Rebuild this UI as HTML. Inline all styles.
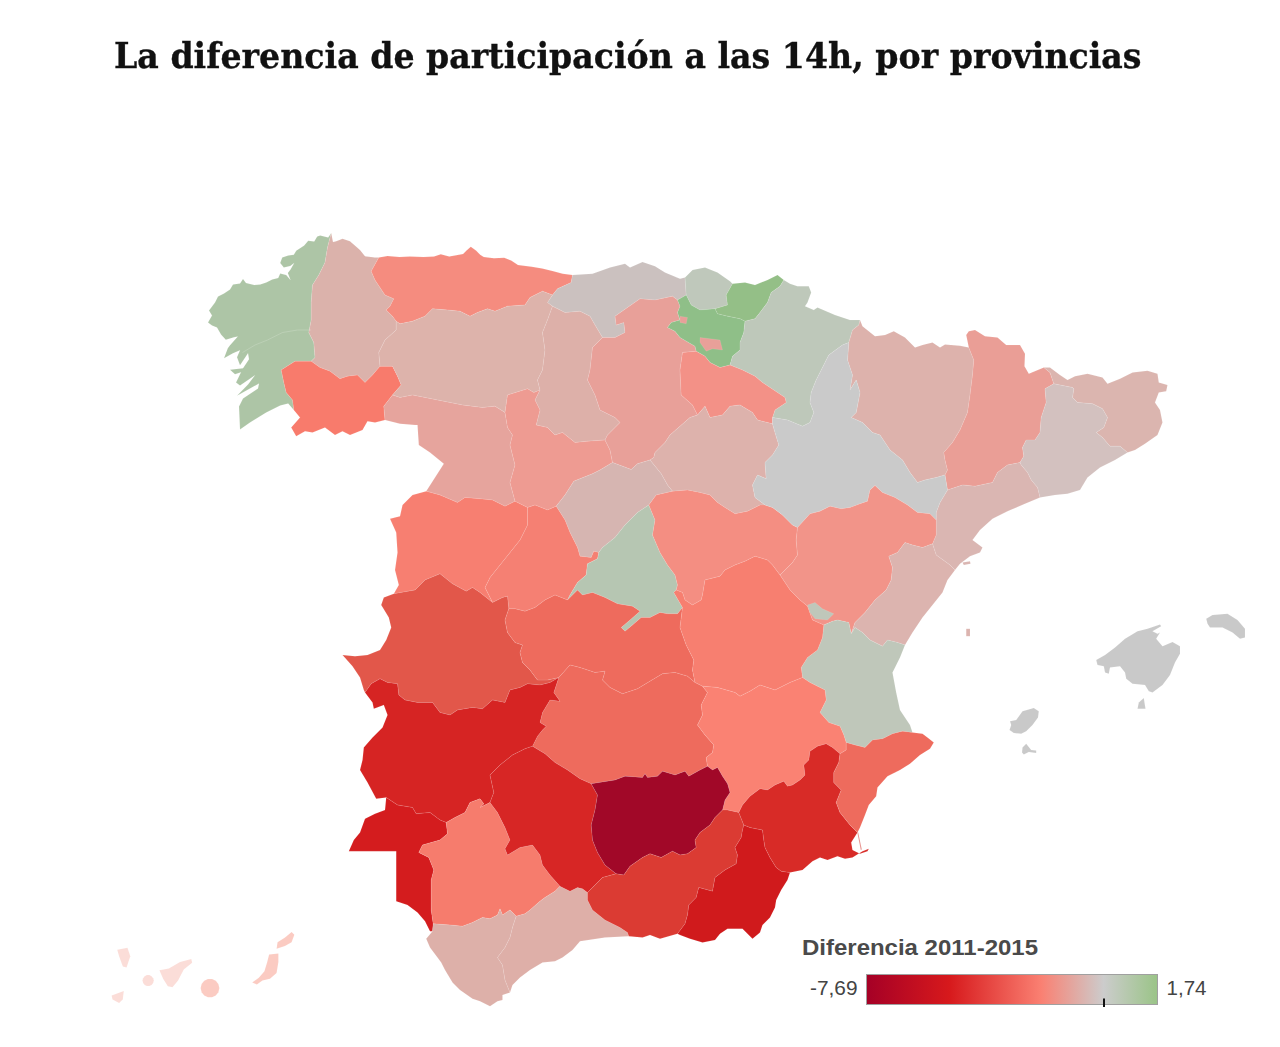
<!DOCTYPE html>
<html lang="es"><head><meta charset="utf-8"><title>La diferencia de participación a las 14h, por provincias</title>
<style>
html,body{margin:0;padding:0;background:#fff}
body{width:1280px;height:1047px;position:relative;overflow:hidden;font-family:"Liberation Sans",Arial,sans-serif}
h1{position:absolute;left:114px;top:33.5px;margin:0;font:bold 36px/1.2 "DejaVu Serif","Liberation Serif",serif;color:#111;white-space:nowrap;transform-origin:0 0;transform:scaleX(.922);-webkit-text-stroke:.35px #111}
svg{position:absolute;left:0;top:0}
.lt{font:bold 22px "Liberation Sans",Arial,sans-serif;fill:#4a4a4a}
.lv{font:20px "Liberation Sans",Arial,sans-serif;fill:#444}
</style></head><body>
<h1 id="t">La diferencia de participación a las 14h, por provincias</h1>
<svg width="1280" height="1047" viewBox="0 0 1280 1047">
<defs><linearGradient id="g" x1="0" x2="1" y1="0" y2="0">
<stop offset="0" stop-color="#a50026"/><stop offset=".285" stop-color="#d7191c"/><stop offset=".6" stop-color="#fa8072"/><stop offset=".815" stop-color="#cccccc"/><stop offset="1" stop-color="#9ac487"/>
</linearGradient></defs>
<g id="map" style="filter:blur(.45px)" stroke="#fff" stroke-opacity=".16" stroke-width=".6" stroke-linejoin="round">
<path d="M331.2 233.0 L328.2 237.5 L320.2 235.5 L317.2 236.5 L314.2 241.5 L308.2 240.8 L304.2 245.5 L296.2 250.8 L293.8 254.8 L288.2 255.5 L282.2 257.5 L280.2 263.0 L283.8 267.5 L290.2 266.0 L294.2 263.0 L290.5 269.5 L287.8 273.0 L290.5 280.0 L286.2 275.0 L280.2 273.5 L278.2 278.0 L272.2 279.5 L266.2 282.5 L260.2 284.5 L254.2 285.0 L246.0 283.0 L243.0 279.0 L240.0 283.5 L233.0 284.5 L230.0 289.5 L224.0 293.5 L218.0 296.5 L215.0 302.5 L209.0 310.5 L212.0 315.5 L208.0 322.5 L212.0 325.5 L217.0 327.5 L221.0 334.5 L225.8 339.8 L234.0 337.2 L237.8 336.5 L230.0 345.2 L227.8 348.2 L224.0 358.2 L233.0 353.2 L240.0 350.2 L237.0 357.2 L240.0 365.2 L248.0 353.2 L249.0 359.2 L243.0 368.2 L230.0 369.8 L235.0 374.2 L241.0 372.2 L236.0 382.5 L240.0 385.5 L255.0 375.2 L248.0 384.5 L237.0 395.8 L259.0 383.5 L258.0 388.5 L243.0 398.5 L239.0 406.5 L240.0 429.5 L250.0 422.5 L266.2 412.5 L280.2 405.5 L288.2 403.5 L293.8 410.0 L292.5 400.0 L286.2 392.5 L283.8 382.5 L281.2 370.0 L295.0 361.2 L311.2 361.2 L315.0 357.5 L313.8 342.5 L308.8 332.5 L311.2 320.0 L311.2 302.5 L312.5 285.0 L318.8 275.0 L325.0 262.5 L327.5 247.5 L331.2 233.0Z" fill="#ADC5A6"/>
<path d="M331.2 233.0 L333.0 242.0 L336.2 241.2 L342.5 238.8 L350.0 241.2 L360.0 250.0 L365.0 256.2 L375.0 257.5 L378.8 257.5 L371.2 271.2 L375.0 280.0 L380.0 287.5 L385.0 295.0 L393.8 298.8 L390.0 306.2 L386.2 310.0 L392.5 316.2 L396.2 321.2 L396.2 330.0 L385.0 340.0 L378.8 352.5 L380.0 366.2 L372.5 375.0 L365.0 382.5 L357.5 375.0 L347.5 376.2 L340.0 378.8 L330.0 371.2 L320.0 367.5 L311.2 361.2 L315.0 357.5 L313.8 342.5 L308.8 332.5 L311.2 320.0 L311.2 302.5 L312.5 285.0 L318.8 275.0 L325.0 262.5 L327.5 247.5 L331.2 233.0Z" fill="#DBB2AB"/>
<path d="M293.8 410.0 L292.5 400.0 L286.2 392.5 L283.8 382.5 L281.2 370.0 L295.0 361.2 L311.2 361.2 L320.0 367.5 L330.0 371.2 L340.0 378.8 L347.5 376.2 L357.5 375.0 L365.0 382.5 L372.5 375.0 L380.0 366.2 L392.5 366.2 L397.5 376.2 L401.2 385.0 L392.5 395.0 L383.8 406.2 L385.0 420.0 L375.0 422.5 L367.5 421.2 L362.5 430.0 L350.0 435.0 L342.5 431.2 L335.0 435.0 L325.0 427.5 L312.5 432.5 L305.0 431.2 L296.2 436.2 L291.2 427.5 L300.0 417.5 L293.8 410.0Z" fill="#F87B6C"/>
<path d="M378.8 257.5 L387.5 256.0 L399.5 257.0 L409.8 256.5 L423.5 257.0 L434.0 256.5 L440.8 254.2 L449.2 256.5 L456.2 255.2 L463.0 254.0 L466.5 250.5 L470.8 246.8 L476.0 250.5 L480.2 254.8 L483.8 257.0 L494.0 258.2 L504.2 257.8 L511.2 260.5 L518.0 265.0 L531.8 266.8 L542.2 268.5 L552.5 271.0 L562.8 273.8 L572.5 275.0 L571.2 282.5 L557.5 288.8 L552.5 295.0 L542.5 291.2 L530.0 297.5 L525.0 305.0 L507.5 306.2 L495.0 311.2 L487.5 308.8 L477.5 312.5 L470.0 316.2 L460.0 311.2 L447.5 310.0 L432.5 308.8 L425.0 316.2 L412.5 321.2 L400.0 323.8 L396.2 321.2 L392.5 316.2 L386.2 310.0 L390.0 306.2 L393.8 298.8 L385.0 295.0 L380.0 287.5 L375.0 280.0 L371.2 271.2 L378.8 257.5Z" fill="#F58C7F"/>
<path d="M572.5 275.0 L592.5 273.8 L610.0 267.5 L625.0 263.8 L630.0 267.5 L642.5 262.0 L655.0 266.2 L665.0 272.5 L680.0 278.8 L685.0 277.5 L686.2 295.0 L677.5 300.0 L672.5 296.2 L655.0 300.0 L640.0 298.8 L627.5 307.5 L615.0 316.2 L616.2 325.0 L623.8 322.5 L625.0 332.5 L615.0 337.5 L602.5 337.5 L595.0 325.0 L590.0 316.2 L580.0 311.2 L565.0 312.5 L552.5 306.2 L547.5 302.5 L552.5 295.0 L557.5 288.8 L571.2 282.5 L572.5 275.0Z" fill="#CBC1BF"/>
<path d="M396.2 321.2 L400.0 323.8 L412.5 321.2 L425.0 316.2 L432.5 308.8 L447.5 310.0 L460.0 311.2 L470.0 316.2 L477.5 312.5 L487.5 308.8 L495.0 311.2 L507.5 306.2 L525.0 305.0 L530.0 297.5 L542.5 291.2 L552.5 295.0 L547.5 302.5 L552.5 306.2 L547.5 320.0 L542.5 332.5 L545.0 350.0 L542.5 370.0 L537.5 380.0 L540.0 390.0 L533.8 392.5 L527.5 388.8 L507.5 395.0 L505.0 412.5 L495.0 406.2 L482.5 407.5 L462.5 405.0 L437.5 400.0 L412.5 395.0 L400.0 397.5 L392.5 395.0 L401.2 385.0 L397.5 376.2 L392.5 366.2 L380.0 366.2 L378.8 352.5 L385.0 340.0 L396.2 330.0 L396.2 321.2Z" fill="#DDB3AB"/>
<path d="M392.5 395.0 L400.0 397.5 L412.5 395.0 L437.5 400.0 L462.5 405.0 L482.5 407.5 L495.0 406.2 L505.0 412.5 L507.5 427.5 L512.5 435.0 L510.0 445.0 L515.0 465.0 L510.0 482.5 L515.0 501.2 L505.0 506.2 L492.5 500.0 L480.0 498.8 L465.0 497.5 L457.5 502.5 L440.0 495.0 L426.2 491.2 L435.0 477.5 L443.8 463.8 L430.0 452.5 L418.8 445.0 L417.5 425.0 L415.0 425.0 L400.0 423.8 L385.0 420.0 L383.8 406.2 L392.5 395.0Z" fill="#E6A49D"/>
<path d="M552.5 306.2 L565.0 312.5 L580.0 311.2 L590.0 316.2 L595.0 325.0 L602.5 337.5 L592.5 347.5 L590.0 370.0 L587.5 380.0 L595.0 395.0 L600.0 410.0 L615.0 417.5 L620.0 422.5 L607.5 435.0 L605.0 440.0 L587.5 441.2 L575.0 442.5 L562.5 432.5 L555.0 435.0 L547.5 427.5 L536.2 425.0 L540.0 410.0 L535.0 400.0 L540.0 390.0 L537.5 380.0 L542.5 370.0 L545.0 350.0 L542.5 332.5 L547.5 320.0 L552.5 306.2Z" fill="#DDB0A9"/>
<path d="M505.0 412.5 L507.5 395.0 L527.5 388.8 L533.8 392.5 L540.0 390.0 L535.0 400.0 L540.0 410.0 L536.2 425.0 L547.5 427.5 L555.0 435.0 L562.5 432.5 L575.0 442.5 L587.5 441.2 L605.0 440.0 L610.0 450.0 L612.5 462.5 L600.0 470.0 L592.5 473.8 L573.8 481.2 L565.0 495.0 L556.2 506.2 L547.5 510.0 L535.0 505.0 L527.5 507.5 L515.0 501.2 L510.0 482.5 L515.0 465.0 L510.0 445.0 L512.5 435.0 L507.5 427.5 L505.0 412.5Z" fill="#EE9B92"/>
<path d="M677.5 300.0 L680.0 306.2 L677.5 312.5 L680.0 320.0 L671.2 322.5 L667.5 327.5 L675.0 331.2 L680.0 337.5 L695.0 346.2 L696.2 351.2 L682.5 352.5 L680.0 370.0 L681.2 395.0 L692.5 405.0 L697.5 415.0 L690.0 417.5 L670.0 435.0 L665.0 442.5 L655.0 452.5 L653.8 457.5 L650.0 460.0 L637.5 463.8 L631.2 469.5 L612.5 462.5 L610.0 450.0 L605.0 440.0 L607.5 435.0 L620.0 422.5 L615.0 417.5 L600.0 410.0 L595.0 395.0 L587.5 380.0 L590.0 370.0 L592.5 347.5 L602.5 337.5 L615.0 337.5 L625.0 332.5 L623.8 322.5 L616.2 325.0 L615.0 316.2 L627.5 307.5 L640.0 298.8 L655.0 300.0 L672.5 296.2 L677.5 300.0Z" fill="#E8A099"/>
<path d="M685.0 277.5 L692.5 270.0 L705.0 267.5 L717.5 272.5 L730.0 281.2 L732.5 283.8 L726.2 295.0 L727.5 305.0 L715.0 308.8 L700.0 310.0 L691.2 305.0 L686.2 295.0 L685.0 277.5Z" fill="#BFC8BB"/>
<path d="M732.5 283.8 L745.0 282.5 L755.0 285.0 L767.5 280.0 L777.5 275.0 L783.8 280.0 L780.0 286.2 L771.2 292.5 L767.5 302.5 L760.0 312.5 L755.0 318.8 L745.0 321.2 L740.0 318.8 L727.5 316.2 L717.5 313.8 L715.0 308.8 L727.5 305.0 L726.2 295.0 L732.5 283.8Z" fill="#94BF87"/>
<path d="M677.5 300.0 L686.2 295.0 L691.2 305.0 L700.0 310.0 L715.0 308.8 L717.5 313.8 L727.5 316.2 L740.0 318.8 L745.0 321.2 L743.8 332.5 L740.0 342.5 L740.0 350.0 L732.5 356.2 L730.0 365.0 L720.0 367.5 L710.0 362.5 L705.0 356.2 L696.2 351.2 L695.0 346.2 L680.0 337.5 L675.0 331.2 L667.5 327.5 L671.2 322.5 L680.0 320.0 L677.5 312.5 L680.0 306.2 L677.5 300.0Z" fill="#8FBF88"/>
<path d="M783.8 280.0 L790.0 283.8 L797.5 286.2 L808.8 286.2 L811.2 292.5 L807.5 302.5 L805.0 306.2 L813.8 310.0 L817.5 307.5 L835.0 315.0 L850.0 320.0 L860.0 320.0 L858.8 325.0 L852.5 330.0 L848.8 342.5 L842.5 345.0 L828.8 355.0 L822.5 367.5 L816.2 380.0 L811.2 392.5 L810.0 402.5 L813.8 412.5 L810.0 422.5 L802.5 426.2 L787.5 420.0 L772.5 417.5 L775.0 410.0 L786.2 402.5 L785.0 397.5 L770.0 387.5 L762.5 382.5 L755.0 376.2 L742.5 370.0 L730.0 365.0 L732.5 356.2 L740.0 350.0 L740.0 342.5 L743.8 332.5 L745.0 321.2 L755.0 318.8 L760.0 312.5 L767.5 302.5 L771.2 292.5 L780.0 286.2 L783.8 280.0Z" fill="#BEC8BA"/>
<path d="M696.2 351.2 L705.0 356.2 L710.0 362.5 L720.0 367.5 L730.0 365.0 L742.5 370.0 L755.0 376.2 L762.5 382.5 L770.0 387.5 L785.0 397.5 L786.2 402.5 L775.0 410.0 L772.5 417.5 L772.5 423.8 L757.5 420.0 L752.5 412.5 L740.0 405.0 L730.0 406.2 L722.5 415.0 L710.0 417.5 L705.0 406.2 L697.5 415.0 L692.5 405.0 L681.2 395.0 L680.0 370.0 L682.5 352.5 L696.2 351.2Z" fill="#F39187"/>
<path d="M650.0 460.0 L653.8 457.5 L655.0 452.5 L665.0 442.5 L670.0 435.0 L690.0 417.5 L697.5 415.0 L705.0 406.2 L710.0 417.5 L722.5 415.0 L730.0 406.2 L740.0 405.0 L752.5 412.5 L757.5 420.0 L772.5 423.8 L775.0 432.5 L778.8 445.0 L772.5 455.0 L765.0 462.5 L766.2 478.8 L757.5 475.0 L752.5 485.0 L755.0 497.5 L765.0 505.0 L760.0 505.0 L747.5 511.2 L735.0 513.8 L725.0 507.5 L717.5 502.5 L710.0 495.0 L700.0 492.5 L687.5 490.0 L672.5 491.2 L667.5 485.0 L661.2 473.8 L650.0 460.0Z" fill="#DDB2AC"/>
<path d="M612.5 462.5 L631.2 469.5 L637.5 463.8 L650.0 460.0 L661.2 473.8 L667.5 485.0 L672.5 491.2 L656.2 495.0 L648.8 505.0 L637.5 512.5 L625.0 525.0 L615.0 537.5 L602.5 547.5 L598.8 552.5 L593.8 551.2 L591.2 557.5 L580.0 556.2 L577.5 547.5 L570.0 532.5 L565.0 520.0 L556.2 506.2 L565.0 495.0 L573.8 481.2 L592.5 473.8 L600.0 470.0 L612.5 462.5Z" fill="#D6B5B1"/>
<path d="M527.5 507.5 L535.0 505.0 L547.5 510.0 L556.2 506.2 L565.0 520.0 L570.0 532.5 L577.5 547.5 L580.0 556.2 L591.2 557.5 L593.8 551.2 L598.8 552.5 L597.5 558.8 L587.5 563.8 L586.2 575.0 L577.5 582.5 L570.0 595.0 L567.5 600.0 L555.0 595.0 L545.0 600.0 L535.0 607.5 L525.0 611.2 L515.0 608.8 L508.8 608.8 L507.5 596.2 L502.5 597.5 L492.5 602.5 L485.0 587.5 L490.0 577.5 L500.0 565.0 L510.0 552.5 L520.0 540.0 L527.5 525.0 L527.5 507.5Z" fill="#F58073"/>
<path d="M426.2 491.2 L440.0 495.0 L457.5 502.5 L465.0 497.5 L480.0 498.8 L492.5 500.0 L505.0 506.2 L515.0 501.2 L527.5 507.5 L527.5 525.0 L520.0 540.0 L510.0 552.5 L500.0 565.0 L490.0 577.5 L485.0 587.5 L492.5 602.5 L480.0 592.5 L472.5 587.5 L466.2 591.2 L452.5 583.8 L440.0 573.8 L425.0 580.0 L415.0 590.0 L393.8 593.8 L398.8 585.0 L395.0 570.0 L397.5 552.5 L396.2 532.5 L390.0 518.8 L400.0 516.2 L402.5 505.0 L412.5 495.0 L426.2 491.2Z" fill="#F77F71"/>
<path d="M598.8 552.5 L602.5 547.5 L615.0 537.5 L625.0 525.0 L637.5 512.5 L648.8 505.0 L655.0 520.0 L652.5 535.0 L660.0 552.5 L667.5 565.0 L675.0 575.0 L677.5 585.0 L676.2 590.0 L673.8 592.5 L682.5 607.5 L677.5 613.8 L667.5 613.8 L660.0 612.5 L650.0 617.5 L641.2 617.5 L632.5 625.0 L625.0 631.2 L621.2 627.5 L630.0 620.0 L640.0 611.2 L632.5 606.2 L617.5 603.8 L605.0 597.5 L592.5 592.5 L582.5 595.0 L577.5 590.0 L567.5 600.0 L570.0 595.0 L577.5 582.5 L586.2 575.0 L587.5 563.8 L597.5 558.8 L598.8 552.5Z" fill="#B6C6B2"/>
<path d="M648.8 505.0 L656.2 495.0 L672.5 491.2 L687.5 490.0 L700.0 492.5 L710.0 495.0 L717.5 502.5 L725.0 507.5 L735.0 513.8 L747.5 511.2 L760.0 505.0 L765.0 505.0 L772.5 507.5 L782.5 515.0 L792.5 525.0 L797.5 527.5 L796.2 540.0 L797.5 555.0 L792.5 562.5 L787.5 567.5 L780.0 575.0 L772.5 565.0 L767.5 560.0 L755.0 556.2 L745.0 561.2 L735.0 565.0 L725.0 570.0 L720.0 576.2 L705.0 580.0 L702.5 595.0 L701.2 600.0 L692.5 605.0 L685.0 600.0 L682.5 592.5 L676.2 590.0 L677.5 585.0 L675.0 575.0 L667.5 565.0 L660.0 552.5 L652.5 535.0 L655.0 520.0 L648.8 505.0Z" fill="#F48E82"/>
<path d="M860.0 320.0 L862.5 326.2 L875.0 336.2 L885.0 335.0 L893.8 331.2 L905.0 337.5 L915.0 347.5 L922.5 345.0 L932.5 342.5 L940.0 347.5 L945.0 344.5 L960.0 345.8 L968.8 347.5 L973.8 360.0 L972.5 375.0 L970.0 395.0 L967.5 412.5 L960.0 430.0 L952.5 442.5 L943.8 452.5 L945.0 460.0 L947.5 470.0 L945.0 475.0 L936.2 477.5 L925.0 480.0 L917.5 482.5 L910.0 472.5 L902.5 460.0 L890.0 450.0 L880.0 435.0 L872.5 432.5 L862.5 422.5 L851.2 417.5 L856.2 412.5 L860.0 392.5 L856.2 380.0 L850.0 390.0 L852.5 375.0 L847.5 360.0 L848.8 342.5 L852.5 330.0 L858.8 325.0 L860.0 320.0Z" fill="#DDB2AC"/>
<path d="M968.8 347.5 L966.2 335.0 L968.8 331.2 L975.0 330.0 L985.0 336.2 L997.5 337.5 L1006.2 345.0 L1020.0 345.0 L1025.0 353.8 L1024.5 366.2 L1028.8 373.8 L1043.8 367.5 L1050.0 372.5 L1053.8 383.8 L1045.0 388.8 L1046.2 402.5 L1041.2 417.5 L1040.0 432.5 L1035.0 440.0 L1026.2 440.0 L1022.5 447.5 L1023.8 456.2 L1020.0 462.5 L1007.5 465.0 L997.5 472.5 L992.5 482.5 L975.0 486.2 L962.5 485.0 L947.5 490.0 L945.0 475.0 L947.5 470.0 L945.0 460.0 L943.8 452.5 L952.5 442.5 L960.0 430.0 L967.5 412.5 L970.0 395.0 L972.5 375.0 L973.8 360.0 L968.8 347.5Z" fill="#EA9E96"/>
<path d="M1043.8 367.5 L1050.0 367.5 L1060.0 375.0 L1067.5 380.0 L1075.0 376.2 L1087.5 373.8 L1102.5 377.5 L1107.5 383.8 L1120.0 378.8 L1132.5 372.5 L1147.5 370.8 L1157.5 373.8 L1158.8 382.5 L1167.5 385.0 L1166.2 391.2 L1158.8 392.5 L1155.0 402.5 L1160.0 410.0 L1162.5 422.5 L1157.5 435.0 L1145.0 443.8 L1135.0 450.0 L1127.5 452.5 L1120.0 446.2 L1110.0 446.2 L1102.5 437.5 L1096.2 432.5 L1103.8 427.5 L1107.5 417.5 L1102.5 408.8 L1092.5 403.8 L1077.5 402.5 L1072.5 397.5 L1073.8 388.8 L1072.5 387.5 L1053.8 383.8 L1050.0 372.5 L1043.8 367.5Z" fill="#DBB5AF"/>
<path d="M1053.8 383.8 L1072.5 387.5 L1073.8 388.8 L1072.5 397.5 L1077.5 402.5 L1092.5 403.8 L1102.5 408.8 L1107.5 417.5 L1103.8 427.5 L1096.2 432.5 L1102.5 437.5 L1110.0 446.2 L1120.0 446.2 L1127.5 452.5 L1115.0 460.0 L1100.0 467.5 L1087.5 477.5 L1080.0 490.0 L1067.5 493.8 L1055.0 495.0 L1040.0 497.5 L1037.5 487.5 L1031.2 480.0 L1027.5 472.5 L1021.2 465.0 L1020.0 462.5 L1023.8 456.2 L1022.5 447.5 L1026.2 440.0 L1035.0 440.0 L1040.0 432.5 L1041.2 417.5 L1046.2 402.5 L1045.0 388.8 L1053.8 383.8Z" fill="#D3C1BF"/>
<path d="M947.5 490.0 L962.5 485.0 L975.0 486.2 L992.5 482.5 L997.5 472.5 L1007.5 465.0 L1020.0 462.5 L1021.2 465.0 L1027.5 472.5 L1031.2 480.0 L1037.5 487.5 L1040.0 497.5 L1025.0 503.8 L1007.5 511.2 L992.5 518.8 L980.0 530.0 L972.5 540.0 L982.5 547.5 L980.0 552.5 L970.0 556.2 L960.0 563.8 L955.0 570.0 L950.0 565.0 L936.2 555.0 L932.5 543.8 L936.2 535.0 L936.2 520.0 L936.2 512.5 L940.0 502.5 L947.5 490.0Z" fill="#DAB6B2"/>
<path d="M772.5 417.5 L787.5 420.0 L802.5 426.2 L810.0 422.5 L813.8 412.5 L810.0 402.5 L811.2 392.5 L816.2 380.0 L822.5 367.5 L828.8 355.0 L842.5 345.0 L848.8 342.5 L847.5 360.0 L852.5 375.0 L850.0 390.0 L856.2 380.0 L860.0 392.5 L856.2 412.5 L851.2 417.5 L862.5 422.5 L872.5 432.5 L880.0 435.0 L890.0 450.0 L902.5 460.0 L910.0 472.5 L917.5 482.5 L925.0 480.0 L936.2 477.5 L945.0 475.0 L947.5 490.0 L940.0 502.5 L936.2 512.5 L936.2 520.0 L930.0 513.8 L917.5 512.5 L907.5 505.0 L895.0 497.5 L882.5 492.5 L875.0 485.5 L870.0 490.0 L867.5 501.2 L860.0 503.8 L850.0 507.5 L841.2 508.8 L830.0 506.2 L820.0 511.2 L810.0 513.8 L797.5 527.5 L792.5 525.0 L782.5 515.0 L772.5 507.5 L765.0 505.0 L755.0 497.5 L752.5 485.0 L757.5 475.0 L766.2 478.8 L765.0 462.5 L772.5 455.0 L778.8 445.0 L775.0 432.5 L772.5 423.8 L772.5 417.5Z" fill="#CACACA"/>
<path d="M797.5 527.5 L810.0 513.8 L820.0 511.2 L830.0 506.2 L841.2 508.8 L850.0 507.5 L860.0 503.8 L867.5 501.2 L870.0 490.0 L875.0 485.5 L882.5 492.5 L895.0 497.5 L907.5 505.0 L917.5 512.5 L930.0 513.8 L936.2 520.0 L936.2 535.0 L932.5 543.8 L922.5 547.5 L912.5 545.0 L905.0 542.5 L897.5 552.5 L888.8 556.2 L892.5 567.5 L891.2 580.0 L886.2 590.0 L875.0 600.0 L865.0 612.5 L855.0 622.5 L851.2 633.8 L848.8 622.5 L837.5 620.0 L832.5 621.2 L823.8 625.0 L812.5 620.0 L807.5 606.2 L800.0 600.0 L790.0 590.0 L780.0 575.0 L787.5 567.5 L792.5 562.5 L797.5 555.0 L796.2 540.0 L797.5 527.5Z" fill="#F29489"/>
<path d="M932.5 543.8 L936.2 555.0 L950.0 565.0 L955.0 570.0 L947.5 580.0 L942.5 592.5 L932.5 605.0 L922.5 617.5 L912.5 632.5 L905.0 645.0 L897.5 642.5 L887.5 640.0 L882.5 646.2 L870.0 640.0 L862.5 632.5 L855.0 627.5 L851.2 633.8 L855.0 622.5 L865.0 612.5 L875.0 600.0 L886.2 590.0 L891.2 580.0 L892.5 567.5 L888.8 556.2 L897.5 552.5 L905.0 542.5 L912.5 545.0 L922.5 547.5 L932.5 543.8Z" fill="#DCB4AF"/>
<path d="M823.8 625.0 L832.5 621.2 L837.5 620.0 L848.8 622.5 L851.2 633.8 L855.0 627.5 L862.5 632.5 L870.0 640.0 L882.5 646.2 L887.5 640.0 L897.5 642.5 L905.0 645.0 L900.0 657.5 L893.8 670.0 L892.5 672.5 L896.2 692.5 L900.0 710.0 L910.0 725.0 L912.5 732.5 L902.5 731.2 L892.5 733.8 L882.5 738.8 L872.5 740.0 L865.0 747.5 L855.0 745.0 L846.2 742.5 L843.8 735.0 L840.0 726.2 L828.8 722.5 L820.0 712.5 L826.2 700.0 L825.0 690.0 L810.0 682.5 L802.5 677.5 L801.2 667.5 L807.5 657.5 L817.5 650.0 L822.5 637.5 L823.8 625.0Z" fill="#BFC7BA"/>
<path d="M393.8 593.8 L415.0 590.0 L425.0 580.0 L440.0 573.8 L452.5 583.8 L466.2 591.2 L472.5 587.5 L480.0 592.5 L492.5 602.5 L502.5 597.5 L507.5 596.2 L508.8 608.8 L505.0 620.0 L507.5 632.5 L515.0 642.5 L522.5 645.0 L520.0 652.5 L522.5 662.5 L530.0 670.0 L537.5 680.0 L547.5 680.0 L558.8 677.5 L550.0 682.5 L540.0 685.0 L527.5 683.8 L520.0 687.5 L510.0 690.0 L505.0 702.5 L492.5 700.0 L482.5 708.8 L472.5 707.5 L457.5 710.0 L450.0 715.0 L440.0 712.5 L432.5 702.5 L417.5 702.5 L405.0 700.0 L398.8 695.0 L397.5 683.8 L387.5 682.5 L380.0 678.8 L371.2 683.8 L365.0 692.5 L363.8 690.0 L360.0 677.5 L352.5 666.2 L342.5 655.0 L355.0 656.2 L367.5 655.0 L380.0 650.0 L386.2 640.0 L391.2 627.5 L388.8 617.5 L381.2 605.0 L383.8 597.5 L393.8 593.8Z" fill="#E2574A"/>
<path d="M508.8 608.8 L515.0 608.8 L525.0 611.2 L535.0 607.5 L545.0 600.0 L555.0 595.0 L567.5 600.0 L577.5 590.0 L582.5 595.0 L592.5 592.5 L605.0 597.5 L617.5 603.8 L632.5 606.2 L640.0 611.2 L630.0 620.0 L621.2 627.5 L625.0 631.2 L632.5 625.0 L641.2 617.5 L650.0 617.5 L660.0 612.5 L667.5 613.8 L677.5 613.8 L682.5 607.5 L680.0 627.5 L686.2 645.0 L693.8 660.0 L692.5 670.0 L695.0 682.5 L687.5 676.2 L675.0 672.5 L662.5 673.8 L650.0 681.2 L637.5 688.8 L622.5 693.8 L610.0 687.5 L602.5 680.0 L605.0 671.2 L595.0 672.5 L580.0 667.5 L570.0 665.0 L558.8 677.5 L547.5 680.0 L537.5 680.0 L530.0 670.0 L522.5 662.5 L520.0 652.5 L522.5 645.0 L515.0 642.5 L507.5 632.5 L505.0 620.0 L508.8 608.8Z" fill="#EE6B5D"/>
<path d="M676.2 590.0 L682.5 592.5 L685.0 600.0 L692.5 605.0 L701.2 600.0 L702.5 595.0 L705.0 580.0 L720.0 576.2 L725.0 570.0 L735.0 565.0 L745.0 561.2 L755.0 556.2 L767.5 560.0 L772.5 565.0 L780.0 575.0 L790.0 590.0 L800.0 600.0 L807.5 606.2 L812.5 620.0 L823.8 625.0 L822.5 637.5 L817.5 650.0 L807.5 657.5 L801.2 667.5 L802.5 677.5 L790.0 682.5 L775.0 690.0 L760.0 685.0 L750.0 691.2 L740.0 696.2 L735.0 692.5 L717.5 687.5 L702.5 686.2 L695.0 682.5 L692.5 670.0 L693.8 660.0 L686.2 645.0 L680.0 627.5 L682.5 607.5 L673.8 592.5 L676.2 590.0Z" fill="#F77F70"/>
<path d="M558.8 677.5 L570.0 665.0 L580.0 667.5 L595.0 672.5 L605.0 671.2 L602.5 680.0 L610.0 687.5 L622.5 693.8 L637.5 688.8 L650.0 681.2 L662.5 673.8 L675.0 672.5 L687.5 676.2 L695.0 682.5 L702.5 686.2 L707.5 692.5 L701.2 705.0 L702.5 715.0 L697.5 725.0 L705.0 735.0 L713.8 745.0 L712.5 752.5 L706.2 757.5 L707.5 766.2 L700.0 770.0 L688.8 776.2 L685.0 771.2 L675.0 775.0 L662.5 771.2 L657.5 776.2 L647.5 777.5 L645.0 773.8 L642.5 777.5 L625.0 776.2 L615.0 780.0 L591.2 783.8 L580.0 778.8 L567.5 770.0 L555.0 762.5 L545.0 753.8 L532.5 746.2 L537.5 736.2 L542.5 730.0 L546.2 726.2 L540.0 722.5 L542.5 712.5 L550.0 700.0 L560.0 701.2 L553.8 692.5 L558.8 677.5Z" fill="#EE6B5D"/>
<path d="M702.5 686.2 L717.5 687.5 L735.0 692.5 L740.0 696.2 L750.0 691.2 L760.0 685.0 L775.0 690.0 L790.0 682.5 L802.5 677.5 L810.0 682.5 L825.0 690.0 L826.2 700.0 L820.0 712.5 L828.8 722.5 L840.0 726.2 L843.8 735.0 L846.2 742.5 L846.2 750.0 L840.0 753.8 L832.5 747.5 L826.2 743.8 L817.5 746.2 L810.0 751.2 L808.8 760.0 L803.8 765.0 L805.0 775.0 L800.0 780.0 L792.5 785.0 L787.5 786.2 L783.8 781.2 L775.0 785.0 L767.5 790.0 L760.0 788.8 L750.0 796.2 L742.5 805.0 L738.8 812.5 L727.5 810.0 L722.5 810.0 L725.0 800.0 L730.0 792.5 L727.5 783.8 L722.5 776.2 L717.5 767.5 L712.5 770.0 L707.5 766.2 L706.2 757.5 L712.5 752.5 L713.8 745.0 L705.0 735.0 L697.5 725.0 L702.5 715.0 L701.2 705.0 L707.5 692.5 L702.5 686.2Z" fill="#FA8273"/>
<path d="M365.0 692.5 L371.2 683.8 L380.0 678.8 L387.5 682.5 L397.5 683.8 L398.8 695.0 L405.0 700.0 L417.5 702.5 L432.5 702.5 L440.0 712.5 L450.0 715.0 L457.5 710.0 L472.5 707.5 L482.5 708.8 L492.5 700.0 L505.0 702.5 L510.0 690.0 L520.0 687.5 L527.5 683.8 L540.0 685.0 L550.0 682.5 L558.8 677.5 L553.8 692.5 L560.0 701.2 L550.0 700.0 L542.5 712.5 L540.0 722.5 L546.2 726.2 L542.5 730.0 L537.5 736.2 L532.5 746.2 L525.0 748.8 L512.5 755.0 L500.0 765.0 L490.0 775.0 L493.8 792.5 L490.0 802.5 L480.0 807.5 L483.8 803.8 L480.0 798.8 L470.0 802.5 L465.0 812.5 L455.0 817.5 L446.2 822.5 L440.0 820.0 L430.0 812.5 L416.2 813.8 L412.5 807.5 L397.5 805.0 L386.2 797.5 L376.2 798.8 L367.5 782.5 L360.0 770.0 L362.5 760.0 L363.8 747.5 L372.5 737.5 L382.5 727.5 L387.5 715.0 L383.8 705.0 L373.8 708.8 L372.5 702.5 L365.0 692.5Z" fill="#D62423"/>
<path d="M386.2 797.5 L397.5 805.0 L412.5 807.5 L416.2 813.8 L430.0 812.5 L440.0 820.0 L446.2 822.5 L447.5 833.8 L440.0 840.0 L422.5 845.0 L418.8 852.5 L428.8 857.5 L433.8 870.0 L431.2 880.0 L431.2 910.0 L433.2 923.8 L432.5 931.2 L430.0 931.2 L425.0 921.2 L417.5 912.5 L407.5 905.0 L396.2 901.2 L396.2 851.2 L348.8 851.2 L353.8 840.0 L360.0 832.5 L365.0 818.8 L375.0 813.8 L385.0 810.0 L386.2 797.5Z" fill="#D41C1E"/>
<path d="M446.2 822.5 L455.0 817.5 L465.0 812.5 L470.0 802.5 L480.0 798.8 L483.8 803.8 L480.0 807.5 L490.0 802.5 L497.5 812.5 L505.0 827.5 L510.0 840.0 L505.0 848.8 L507.5 855.0 L520.0 847.5 L532.5 845.0 L540.0 855.0 L542.5 865.0 L550.0 875.0 L560.0 886.2 L555.0 891.2 L545.0 897.5 L540.0 901.2 L530.0 910.0 L525.0 913.8 L516.2 916.2 L510.0 910.0 L502.5 915.0 L500.0 908.8 L497.5 915.0 L490.0 918.8 L482.5 917.5 L472.5 922.5 L462.5 926.2 L450.0 925.0 L433.2 923.8 L431.2 910.0 L431.2 880.0 L433.8 870.0 L428.8 857.5 L418.8 852.5 L422.5 845.0 L440.0 840.0 L447.5 833.8 L446.2 822.5Z" fill="#F67C6D"/>
<path d="M433.2 923.8 L450.0 925.0 L462.5 926.2 L472.5 922.5 L482.5 917.5 L490.0 918.8 L497.5 915.0 L500.0 908.8 L502.5 915.0 L510.0 910.0 L516.2 916.2 L512.5 927.5 L510.0 937.5 L505.0 947.5 L497.5 957.5 L502.5 965.0 L505.0 980.0 L510.0 992.5 L502.5 995.0 L502.5 1000.0 L497.5 1001.2 L490.0 1006.2 L480.0 1001.2 L472.5 998.8 L460.0 990.0 L452.5 982.5 L445.0 970.0 L441.2 962.5 L437.5 957.5 L430.0 947.5 L426.2 938.8 L432.5 931.2 L433.2 923.8Z" fill="#DDB0A9"/>
<path d="M516.2 916.2 L525.0 913.8 L530.0 910.0 L540.0 901.2 L545.0 897.5 L555.0 891.2 L560.0 886.2 L570.0 891.2 L577.5 887.5 L582.5 888.8 L587.5 892.5 L587.5 900.0 L592.5 910.0 L605.0 920.0 L620.0 927.5 L627.5 932.5 L628.8 936.2 L605.0 937.5 L580.0 941.2 L572.5 950.0 L562.5 957.5 L555.0 961.2 L542.5 962.5 L530.0 970.0 L520.0 977.5 L512.5 985.0 L510.0 992.5 L505.0 980.0 L502.5 965.0 L497.5 957.5 L505.0 947.5 L510.0 937.5 L512.5 927.5 L516.2 916.2Z" fill="#DEAFA8"/>
<path d="M490.0 802.5 L493.8 792.5 L490.0 775.0 L500.0 765.0 L512.5 755.0 L525.0 748.8 L532.5 746.2 L545.0 753.8 L555.0 762.5 L567.5 770.0 L580.0 778.8 L591.2 783.8 L597.5 795.0 L595.0 810.0 L591.2 825.0 L592.5 840.0 L597.5 852.5 L605.0 865.0 L616.2 873.8 L602.5 877.5 L592.5 887.5 L587.5 892.5 L582.5 888.8 L577.5 887.5 L570.0 891.2 L560.0 886.2 L550.0 875.0 L542.5 865.0 L540.0 855.0 L532.5 845.0 L520.0 847.5 L507.5 855.0 L505.0 848.8 L510.0 840.0 L505.0 827.5 L497.5 812.5 L490.0 802.5Z" fill="#D72625"/>
<path d="M591.2 783.8 L615.0 780.0 L625.0 776.2 L642.5 777.5 L645.0 773.8 L647.5 777.5 L657.5 776.2 L662.5 771.2 L675.0 775.0 L685.0 771.2 L688.8 776.2 L700.0 770.0 L707.5 766.2 L712.5 770.0 L717.5 767.5 L722.5 776.2 L727.5 783.8 L730.0 792.5 L725.0 800.0 L722.5 810.0 L715.0 817.5 L710.0 825.0 L700.0 832.5 L695.0 840.0 L696.2 847.5 L687.5 853.8 L680.0 855.0 L672.5 851.2 L661.2 857.5 L650.0 853.8 L642.5 857.5 L630.0 866.2 L623.8 875.0 L616.2 873.8 L605.0 865.0 L597.5 852.5 L592.5 840.0 L591.2 825.0 L595.0 810.0 L597.5 795.0 L591.2 783.8Z" fill="#A10828"/>
<path d="M616.2 873.8 L623.8 875.0 L630.0 866.2 L642.5 857.5 L650.0 853.8 L661.2 857.5 L672.5 851.2 L680.0 855.0 L687.5 853.8 L696.2 847.5 L695.0 840.0 L700.0 832.5 L710.0 825.0 L715.0 817.5 L722.5 810.0 L727.5 810.0 L738.8 812.5 L743.8 825.0 L742.5 830.0 L741.2 837.5 L735.0 847.5 L737.5 855.0 L736.2 863.8 L725.0 870.0 L715.0 877.5 L712.5 891.2 L698.8 887.5 L696.2 897.5 L688.8 905.0 L687.5 915.0 L685.0 923.8 L677.5 933.8 L660.0 938.8 L650.0 935.0 L642.5 937.5 L628.8 936.2 L627.5 932.5 L620.0 927.5 L605.0 920.0 L592.5 910.0 L587.5 900.0 L587.5 892.5 L592.5 887.5 L602.5 877.5 L616.2 873.8Z" fill="#DB3B33"/>
<path d="M677.5 933.8 L685.0 923.8 L687.5 915.0 L688.8 905.0 L696.2 897.5 L698.8 887.5 L712.5 891.2 L715.0 877.5 L725.0 870.0 L736.2 863.8 L737.5 855.0 L735.0 847.5 L741.2 837.5 L742.5 830.0 L743.8 825.0 L750.0 827.5 L762.5 830.0 L763.8 840.0 L765.0 847.5 L770.0 857.5 L776.2 867.5 L781.2 871.2 L790.0 872.5 L787.5 880.0 L781.2 890.0 L776.2 900.0 L775.0 907.5 L770.0 917.5 L762.5 925.0 L760.0 932.5 L752.5 938.8 L747.5 933.8 L742.5 928.8 L727.5 928.8 L720.0 933.8 L715.0 940.0 L702.5 942.5 L690.0 938.8 L680.0 935.0 L677.5 933.8Z" fill="#D01A1C"/>
<path d="M738.8 812.5 L742.5 805.0 L750.0 796.2 L760.0 788.8 L767.5 790.0 L775.0 785.0 L783.8 781.2 L787.5 786.2 L792.5 785.0 L800.0 780.0 L805.0 775.0 L803.8 765.0 L808.8 760.0 L810.0 751.2 L817.5 746.2 L826.2 743.8 L832.5 747.5 L840.0 753.8 L838.8 762.5 L833.8 772.5 L833.8 782.5 L841.2 790.0 L836.2 802.5 L840.0 812.5 L850.0 825.0 L857.5 832.5 L851.2 842.5 L852.5 850.0 L860.0 853.8 L867.5 851.2 L868.8 848.8 L862.5 851.2 L852.5 857.5 L845.0 858.8 L837.5 856.2 L827.5 860.0 L820.0 857.5 L812.5 861.2 L802.5 870.0 L790.0 872.5 L781.2 871.2 L776.2 867.5 L770.0 857.5 L765.0 847.5 L763.8 840.0 L762.5 830.0 L750.0 827.5 L743.8 825.0 L738.8 812.5Z" fill="#D82B27"/>
<path d="M846.2 742.5 L855.0 745.0 L865.0 747.5 L872.5 740.0 L882.5 738.8 L892.5 733.8 L902.5 731.2 L912.5 732.5 L922.5 733.8 L927.5 737.5 L933.8 742.5 L930.0 748.8 L920.0 755.0 L910.0 763.8 L900.0 770.0 L887.5 776.2 L877.5 787.5 L876.2 796.2 L868.8 805.0 L865.0 815.0 L860.0 827.5 L857.5 832.5 L850.0 825.0 L840.0 812.5 L836.2 802.5 L841.2 790.0 L833.8 782.5 L833.8 772.5 L838.8 762.5 L840.0 753.8 L846.2 750.0 L846.2 742.5Z" fill="#EE6B5D"/>
<path d="M700.0 337.5 L720.0 340.0 L722.5 350.0 L712.5 348.8 L706.2 351.2 L700.0 342.5Z" fill="#E8A099"/>
<path d="M680.0 316.2 L687.5 317.5 L686.2 323.8 L680.0 322.5Z" fill="#E8A099"/>
<path d="M807.5 605.0 L815.0 602.5 L822.5 608.8 L833.8 613.8 L827.5 620.0 L815.0 618.8 L810.0 612.5Z" fill="#BFC7BA"/>
<path d="M966.2 628.8 L970.0 628.8 L970.0 636.2 L966.2 636.2Z" fill="#DCB4AF"/>
<path d="M962.5 562.5 L970.0 561.2 L970.5 563.8 L963.8 565.0Z" fill="#DAB6B2"/>
<path d="M857.2 832.0 L858.2 832.5 L861.8 849.5 L860.8 850.0Z" fill="#E58A84"/>
<path d="M1096.2 660.0 L1105.0 655.0 L1115.0 647.5 L1125.0 638.8 L1137.5 631.2 L1147.5 628.8 L1160.0 624.5 L1161.2 626.2 L1152.5 631.2 L1157.5 633.8 L1160.0 632.5 L1156.2 638.8 L1162.5 646.2 L1172.5 642.0 L1180.0 646.2 L1180.0 653.8 L1175.0 662.5 L1170.0 675.0 L1162.5 685.0 L1152.5 692.5 L1148.8 691.2 L1145.0 685.0 L1132.5 683.8 L1126.2 678.8 L1125.0 672.5 L1120.0 666.2 L1110.0 667.5 L1108.8 673.8 L1105.0 672.5 L1103.8 666.2 L1097.5 665.0Z" fill="#C9C9C9"/>
<path d="M1138.8 702.5 L1143.8 698.0 L1145.5 708.8 L1137.5 708.8Z" fill="#C9C9C9"/>
<path d="M1206.2 618.8 L1212.5 615.0 L1227.5 613.8 L1237.5 620.0 L1245.0 628.8 L1245.0 637.5 L1240.0 638.8 L1232.5 632.5 L1222.5 627.5 L1210.0 627.5 L1207.5 623.8Z" fill="#C9C9C9"/>
<path d="M1010.0 721.2 L1016.2 720.0 L1022.5 711.2 L1033.8 708.0 L1038.8 711.2 L1038.0 717.5 L1032.5 725.0 L1026.2 731.2 L1021.2 733.8 L1013.8 733.0 L1009.5 730.0 L1011.2 725.0Z" fill="#C9C9C9"/>
<path d="M1022.5 747.5 L1026.2 743.8 L1031.2 750.0 L1036.2 750.5 L1036.2 753.0 L1028.8 752.0 L1023.8 754.5 L1022.0 752.5Z" fill="#C9C9C9"/>
<path d="M117.2 949.7 L127.5 947.8 L130.3 956.3 L126.6 967.5 L122.8 966.6 L119.1 956.3Z" fill="#FBDDD8"/>
<path d="M153.8 980.6 L153.2 983.1 L151.6 985.0 L149.4 986.1 L146.9 986.1 L144.6 985.0 L143.1 983.1 L142.5 980.6 L143.1 978.2 L144.6 976.2 L146.9 975.1 L149.4 975.1 L151.6 976.2 L153.2 978.2Z" fill="#FBDDD8"/>
<path d="M111.6 995.6 L123.8 990.9 L122.8 999.4 L119.1 1003.1 L112.5 999.4Z" fill="#FBDDD8"/>
<path d="M159.4 970.3 L168.8 968.4 L180.0 961.9 L191.3 959.1 L192.2 962.8 L183.8 969.4 L178.1 980.6 L172.5 987.2 L167.8 986.3 L163.1 978.8Z" fill="#FBDDD8"/>
<path d="M219.4 988.1 L218.4 992.2 L215.8 995.5 L212.1 997.3 L207.9 997.3 L204.2 995.5 L201.6 992.2 L200.6 988.1 L201.6 984.1 L204.2 980.8 L207.9 979.0 L212.1 979.0 L215.8 980.8 L218.4 984.1Z" fill="#FBCBC2"/>
<path d="M269.1 954.4 L278.4 953.4 L278.4 961.9 L276.6 973.1 L270.0 978.8 L262.5 980.6 L256.9 984.4 L252.2 982.5 L258.8 977.8 L264.4 971.3 L267.2 961.9Z" fill="#FBCBC2"/>
<path d="M277.5 942.2 L285.0 937.5 L291.6 931.9 L294.4 934.7 L291.6 942.2 L285.0 945.9 L276.6 948.8Z" fill="#FBCBC2"/>
</g>
<path d="M311.2 330.0 L297.5 330.0 L282.5 332.5 L267.5 340.0 L255.0 345.0 L242.5 352.5" fill="none" stroke="#fff" stroke-opacity=".25" stroke-width=".7"/>
<text class="lt" x="802" y="954.8" textLength="236" lengthAdjust="spacingAndGlyphs">Diferencia 2011-2015</text>
<rect x="866.5" y="974.5" width="291" height="30" fill="url(#g)" stroke="#a0a0a0" stroke-width="1"/>
<text class="lv" x="810" y="994.6" textLength="47.5" lengthAdjust="spacingAndGlyphs">-7,69</text>
<text class="lv" x="1166.5" y="994.6" textLength="40" lengthAdjust="spacingAndGlyphs">1,74</text>
<rect x="1103" y="998.5" width="2" height="8.5" fill="#111"/>
</svg>
</body></html>
